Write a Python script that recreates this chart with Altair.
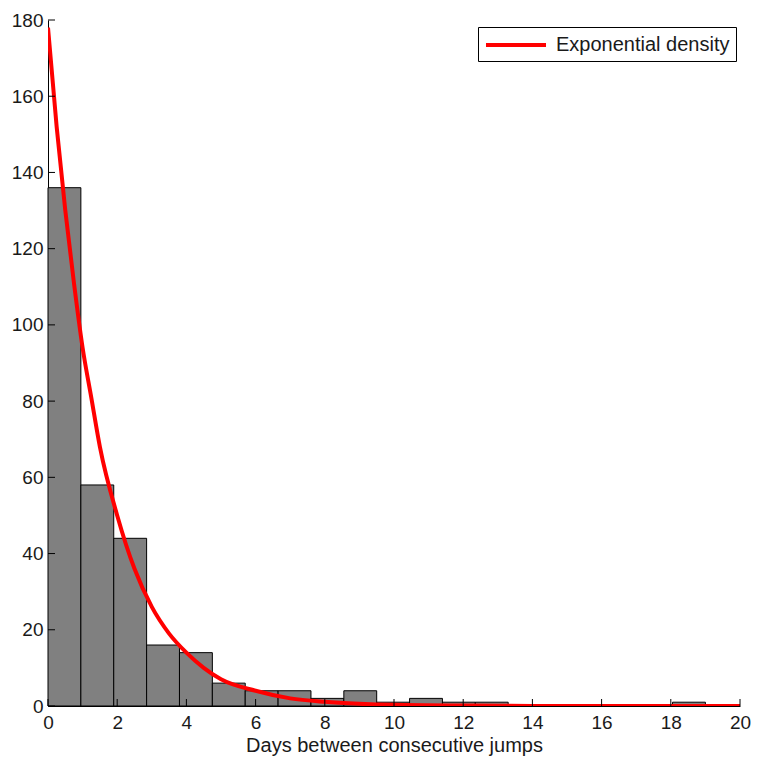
import altair as alt
import pandas as pd

# Histogram bins (days) and counts
bin_start = [0.0, 0.95, 1.9, 2.85, 3.8, 4.75, 5.7, 6.65, 7.6, 8.55,
             9.5, 10.45, 11.4, 12.35, 13.3, 14.25, 15.2, 16.15, 17.1, 18.05]
bin_end = [0.95, 1.9, 2.85, 3.8, 4.75, 5.7, 6.65, 7.6, 8.55, 9.5,
           10.45, 11.4, 12.35, 13.3, 14.25, 15.2, 16.15, 17.1, 18.05, 19.0]
counts = [136, 58, 44, 16, 14, 6, 4, 4, 2, 4, 1, 2, 1, 1, 0, 0, 0, 0, 0, 1]

# Exponential density curve (scaled)
curve_x = [0, 0.25, 0.5, 0.75, 1, 1.25, 1.5, 2, 2.5, 3, 3.5, 4, 4.5, 5,
           6, 7, 8, 9, 10, 12, 14, 16, 20]
curve_y = [178, 152, 130, 111, 94, 81, 68, 50, 36, 26, 19, 14, 10, 7,
           4, 2, 1.1, 0.6, 0.3, 0.1, 0.02, 0, 0]

x_ticks = [0, 2, 4, 6, 8, 10, 12, 14, 16, 18, 20]
y_ticks = [0, 20, 40, 60, 80, 100, 120, 140, 160, 180]

FONT = "Liberation Sans"
H = 686
W = 692

bars_df = pd.DataFrame({"x0": bin_start, "x1": bin_end, "count": counts})
curve_df = pd.DataFrame({"x": curve_x, "y": curve_y,
                         "series": ["Exponential density"] * len(curve_x)})
xt_df = pd.DataFrame({"v": x_ticks})
yt_df = pd.DataFrame({"v": y_ticks})

xscale = alt.Scale(domain=[0, 20], nice=False, zero=False)
yscale = alt.Scale(domain=[0, 180], nice=False)

xaxis = alt.Axis(values=x_ticks, title="Days between consecutive jumps",
                 grid=False, ticks=False, labelPadding=7, domainColor="black",
                 labelFlush=False, labelOverlap=False,
                 labelFont=FONT, labelFontSize=19, labelColor="#1a1a1a",
                 titleFont=FONT, titleFontSize=20, titleFontWeight="normal",
                 titleColor="#1a1a1a", titlePadding=3)
yaxis = alt.Axis(values=y_ticks, title=None, grid=False, ticks=False,
                 labelPadding=5, domainColor="black", labelFont=FONT,
                 labelFlush=False, labelOverlap=False,
                 labelFontSize=19, labelColor="#1a1a1a")

bars = alt.Chart(bars_df).transform_filter(
    alt.datum.count > 0
).mark_bar(color="#808080", stroke="black", strokeWidth=1).encode(
    x=alt.X("x0:Q", scale=xscale, axis=xaxis),
    x2="x1:Q",
    y=alt.Y("count:Q", scale=yscale, axis=yaxis),
    y2=alt.datum(0),
)

curve = alt.Chart(curve_df).mark_line(strokeWidth=4, interpolate="monotone",
                                      clip=True).encode(
    x=alt.X("x:Q", scale=xscale),
    y=alt.Y("y:Q", scale=yscale),
    color=alt.Color("series:N", scale=alt.Scale(range=["#ff0000"]),
                    legend=alt.Legend(title=None)),
)

yt = alt.Chart(yt_df).mark_rule(color="black", strokeWidth=1).encode(
    y=alt.Y("v:Q", scale=yscale),
    x=alt.value(0),
    x2=alt.value(7),
)
xt = alt.Chart(xt_df).mark_rule(color="black", strokeWidth=1).encode(
    x=alt.X("v:Q", scale=xscale),
    y=alt.value(H),
    y2=alt.value(H - 7),
)

chart = alt.layer(bars, curve, yt, xt).properties(
    width=W, height=H,
    padding={"left": 40, "top": 12, "right": 13, "bottom": 52},
    autosize=alt.AutoSizeParams(type="none"),
    background="white",
).configure_view(strokeWidth=0).configure_legend(
    orient="none", legendX=430, legendY=7,
    strokeColor="black", fillColor="white", padding=6,
    labelFont=FONT, labelFontSize=20, labelColor="#1a1a1a",
    symbolType="M-1,0L5,0", symbolStrokeWidth=4, symbolSize=400,
    labelOffset=48, labelLimit=400,
)

chart.save("out.html", embed_options={"renderer": "svg", "actions": False})
